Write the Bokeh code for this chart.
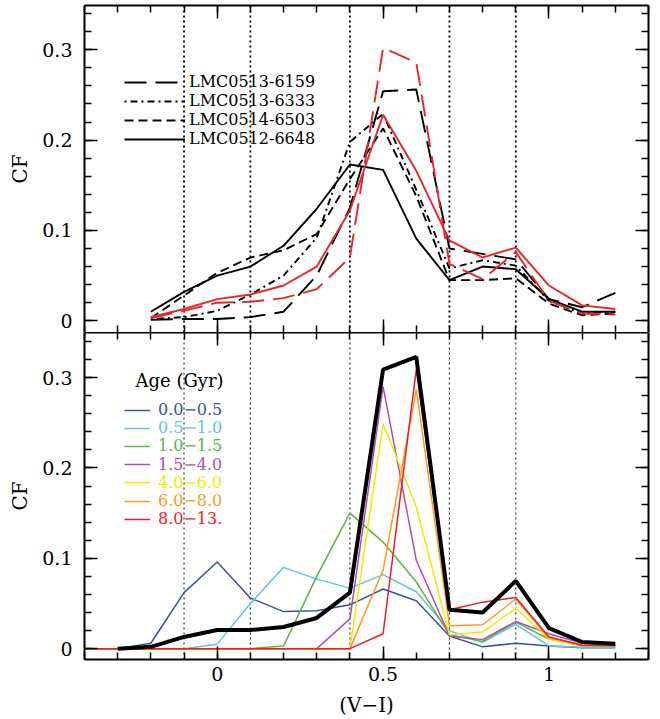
from bokeh.plotting import figure
from bokeh.layouts import column
from bokeh.models import (FixedTicker, Span, Legend, LegendItem, LinearAxis,
                          CustomJSTickFormatter, CustomLabelingPolicy, Range1d, Label)
from bokeh.embed import file_html
from bokeh.resources import INLINE

# ---------------- data ----------------
x_top = [-0.2, -0.1, 0.0, 0.1, 0.2, 0.3, 0.4, 0.5, 0.6, 0.7, 0.8, 0.9, 1.0, 1.1, 1.2]
lmc0513_6159 = [0.001, 0.002, 0.002, 0.004, 0.010, 0.050, 0.125, 0.254, 0.256, 0.080, 0.074, 0.068, 0.024, 0.015, 0.031]
lmc0513_6333 = [0.002, 0.004, 0.011, 0.029, 0.050, 0.092, 0.198, 0.229, 0.145, 0.058, 0.067, 0.061, 0.022, 0.008, 0.010]
lmc0514_6503 = [0.003, 0.028, 0.053, 0.070, 0.078, 0.096, 0.157, 0.213, 0.138, 0.045, 0.045, 0.047, 0.019, 0.006, 0.008]
lmc0512_6648 = [0.010, 0.032, 0.050, 0.060, 0.083, 0.124, 0.173, 0.167, 0.091, 0.045, 0.060, 0.057, 0.024, 0.010, 0.010]
model_dashed = [0.003, 0.011, 0.020, 0.021, 0.025, 0.035, 0.070, 0.302, 0.286, 0.063, 0.046, 0.076, 0.022, 0.008, 0.007]
model_solid = [0.004, 0.013, 0.024, 0.029, 0.039, 0.060, 0.122, 0.228, 0.166, 0.089, 0.070, 0.081, 0.039, 0.017, 0.013]
top_names = ["LMC0513-6159", "LMC0513-6333", "LMC0514-6503", "LMC0512-6648"]

x_bot = [-0.4, -0.3, -0.2, -0.1, 0.0, 0.1, 0.2, 0.3, 0.4, 0.5, 0.6, 0.7, 0.8, 0.9, 1.0, 1.1, 1.2]
age_00_05 = [0, 0, 0.006, 0.062, 0.096, 0.056, 0.041, 0.042, 0.0485, 0.066, 0.053, 0.014, 0.002, 0.006, 0.003, 0.001, 0.001]
age_05_10 = [0, 0, 0, 0, 0.005, 0.050, 0.090, 0.077, 0.067, 0.082, 0.063, 0.020, 0.007, 0.027, 0.003, 0.0015, 0.001]
age_10_15 = [0, 0, 0, 0, 0, 0, 0.003, 0.080, 0.150, 0.118, 0.074, 0.0155, 0.008, 0.0294, 0.0107, 0.0033, 0.0026]
age_15_40 = [0, 0, 0, 0, 0, 0, 0, 0, 0.033, 0.290, 0.098, 0.014, 0.010, 0.030, 0.0165, 0.006, 0.0044]
age_40_60 = [0, 0, 0, 0, 0, 0, 0, 0, 0, 0.249, 0.157, 0.0155, 0.0184, 0.0448, 0.0107, 0.0037, 0.0026]
age_60_80 = [0, 0, 0, 0, 0, 0, 0, 0, 0, 0.087, 0.287, 0.0254, 0.0265, 0.0548, 0.0118, 0.0044, 0.0033]
age_80_13 = [0, 0, 0, 0, 0, 0, 0, 0, 0, 0.0165, 0.309, 0.043, 0.0515, 0.0566, 0.0129, 0.0037, 0.0033]
x_total = [-0.3, -0.2, -0.1, 0.0, 0.1, 0.2, 0.3, 0.4, 0.5, 0.6, 0.7, 0.8, 0.9, 1.0, 1.1, 1.2]
total = [0, 0.002, 0.013, 0.0206, 0.0206, 0.024, 0.034, 0.062, 0.309, 0.323, 0.043, 0.040, 0.075, 0.0228, 0.0074, 0.0055]
age_labels = ["0.0\u22120.5", "0.5\u22121.0", "1.0\u22121.5", "1.5\u22124.0", "4.0\u22126.0", "6.0\u22128.0", "8.0\u221213."]
age_colors = ["#3953a4", "#5ec6dc", "#5cb443", "#b24fae", "#f4ea00", "#ff9a1e", "#ee1d24"]

dotted_x = [-0.1, 0.1, 0.4, 0.7, 0.9]
x_major = [0, 0.5, 1]
x_minor = [-0.4, -0.3, -0.2, -0.1, 0.0, 0.1, 0.2, 0.3, 0.4, 0.5, 0.6, 0.7, 0.8, 0.9, 1.0, 1.1, 1.2, 1.3]
y_major = [0, 0.1, 0.2, 0.3]
y_minor = [0, 0.02, 0.04, 0.06, 0.08, 0.1, 0.12, 0.14, 0.16, 0.18, 0.2, 0.22, 0.24, 0.26, 0.28, 0.3, 0.32, 0.34]

FONT = "DejaVu Serif"
FW, FH = 564, 327

fmt = CustomJSTickFormatter(code="return Number(tick.toFixed(2)).toString();")


def style_axis(ax, major, minor, labels):
    ax.ticker = FixedTicker(ticks=major, minor_ticks=minor)
    ax.major_tick_in = 13
    ax.major_tick_out = 0
    ax.minor_tick_in = 7
    ax.minor_tick_out = 0
    ax.axis_line_width = 2
    ax.axis_line_color = "black"
    ax.major_tick_line_width = 1.5
    ax.minor_tick_line_width = 1.5
    ax.formatter = fmt
    if labels:
        ax.major_label_text_font = FONT
        ax.major_label_text_font_size = "19px"
        ax.major_label_text_color = "black"
    else:
        ax.major_label_policy = CustomLabelingPolicy(code="return [];")
        ax.major_label_text_font_size = "0px"
        ax.major_label_standoff = 0


def make_fig(ylo, yhi, bottom_labels, top_border, bottom_border):
    p = figure(frame_width=FW, frame_height=FH,
               x_range=Range1d(-0.4, 1.3), y_range=Range1d(ylo, yhi),
               output_backend="svg", toolbar_location=None,
               min_border_left=84, min_border_right=2, min_border_top=top_border,
               min_border_bottom=bottom_border)
    p.grid.visible = False
    p.outline_line_color = None
    p.background_fill_color = "white"
    p.border_fill_color = "white"
    p.add_layout(LinearAxis(), "above")
    p.add_layout(LinearAxis(), "right")
    style_axis(p.below[0], x_major, x_minor, bottom_labels)
    style_axis(p.above[0], x_major, x_minor, False)
    style_axis(p.left[0], y_major, y_minor, True)
    style_axis(p.right[0], y_major, y_minor, False)
    p.left[0].major_label_standoff = 12
    p.left[0].axis_label = "CF"
    p.left[0].axis_label_text_font = FONT
    p.left[0].axis_label_text_font_size = "20px"
    p.left[0].axis_label_text_font_style = "normal"
    p.left[0].axis_label_text_color = "black"
    p.left[0].axis_label_standoff = 7
    return p


# ---------------- top panel ----------------
p1 = make_fig(-0.013, 0.349, False, 5, 0)
p1.below[0].axis_line_color = None
for xv in dotted_x:
    p1.add_layout(Span(location=xv, dimension="height", line_color="black",
                       line_width=1.8, line_dash="2 3", level="underlay"))

dashes = ["22 9", "2 4 7 4", "9 5", "solid"]
series = [lmc0513_6159, lmc0513_6333, lmc0514_6503, lmc0512_6648]
items = []
for name, ys, d in zip(top_names, series, dashes):
    r = p1.line(x_top, ys, line_color="black", line_width=1.9, line_dash=d)
    items.append(LegendItem(label=name, renderers=[r]))
p1.line(x_top, model_dashed, line_color="#e8262a", line_width=1.9, line_dash="22 9")
p1.line(x_top, model_solid, line_color="#e8262a", line_width=1.9)

leg1 = Legend(items=items, location=(40, 184), glyph_width=61, glyph_height=18,
              label_height=18, label_standoff=4, spacing=0, padding=0, margin=0,
              border_line_color=None, background_fill_alpha=0,
              label_text_font=FONT, label_text_font_size="16px",
              label_text_color="black")
p1.add_layout(leg1)

# ---------------- bottom panel ----------------
p2 = make_fig(-0.012, 0.35, True, 0, 61)
p2.below[0].major_label_standoff = 7
p2.below[0].axis_label = "(V\u2212I)"
p2.below[0].axis_label_text_font = FONT
p2.below[0].axis_label_text_font_size = "20px"
p2.below[0].axis_label_text_font_style = "normal"
p2.below[0].axis_label_text_color = "black"
p2.below[0].axis_label_standoff = 9
for xv in dotted_x:
    p2.add_layout(Span(location=xv, dimension="height", line_color="#333333",
                       line_width=1.2, line_dash="2 3", level="underlay"))

age_series = [age_00_05, age_05_10, age_10_15, age_15_40, age_40_60, age_60_80, age_80_13]
age_renderers = []
for ys, c in zip(age_series, age_colors):
    age_renderers.append(p2.line(x_bot, ys, line_color=c, line_width=1.5))
p2.line(x_total, total, line_color="black", line_width=4)

row0 = 411 - 333   # first row centre, px below frame top
row_step = 18.2
for i, (lab, c, r) in enumerate(zip(age_labels, age_colors, age_renderers)):
    yc = FH - (row0 + i * row_step)
    lg = Legend(items=[LegendItem(label=lab, renderers=[r])],
                location=(40, yc - 9), glyph_width=26, glyph_height=18,
                label_height=18, label_standoff=8, spacing=0, padding=0, margin=0,
                border_line_color=None, background_fill_alpha=0,
                label_text_font=FONT, label_text_font_size="16px",
                label_text_color=c)
    p2.add_layout(lg)

p2.add_layout(Label(x=51, y=FH - (381 - 333), x_units="screen", y_units="screen",
                    text="Age (Gyr)", text_font=FONT, text_font_size="18px",
                    text_baseline="middle", text_color="black"))

layout = column(p1, p2, spacing=0)
open("out.html", "w").write(file_html(layout, INLINE))
